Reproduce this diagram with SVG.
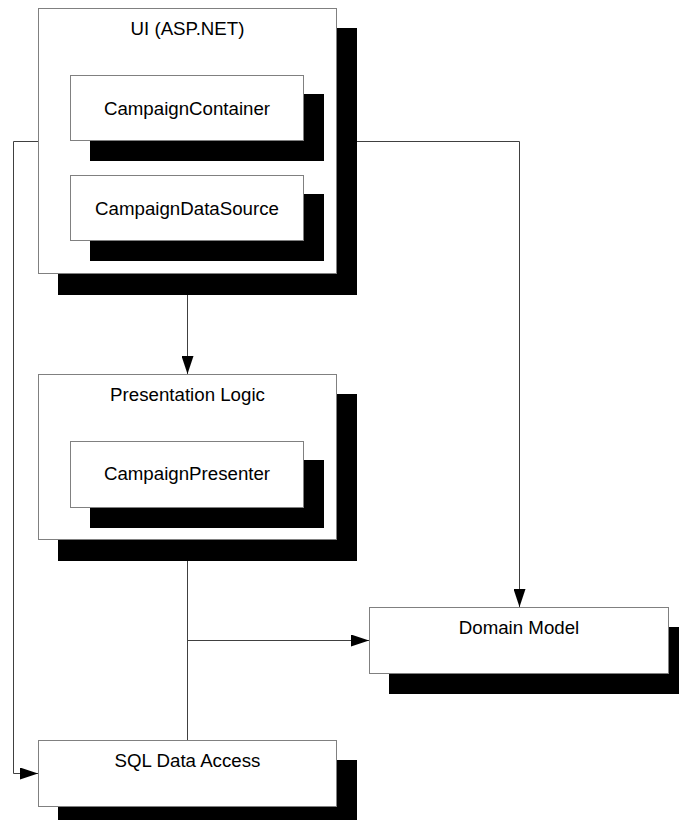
<svg xmlns="http://www.w3.org/2000/svg" width="679" height="820" viewBox="0 0 679 820">
<style>
.shadow{fill:#000;stroke:none}
.box{fill:#fff;stroke:#808080;stroke-width:1}
.lbl{font-family:"Liberation Sans",Arial,sans-serif;font-size:18.7px;fill:#000;text-anchor:middle}
.conn{fill:none;stroke:#404040;stroke-width:1}
</style>
<defs>
<marker id="arrow" markerUnits="userSpaceOnUse" viewBox="0 0 18 12" markerWidth="18" markerHeight="12" refX="18" refY="6" orient="auto">
<path d="M0,0 L18,6 L0,12 z" fill="#000"/>
</marker>
</defs>
<rect width="679" height="820" fill="#fff"/>
<g id="connectors">
<path class="conn" d="M38,141.5 H13.5 V773.5 H38" marker-end="url(#arrow)"/>
<path class="conn" d="M357,141.5 H519.5 V607" marker-end="url(#arrow)"/>
<path class="conn" d="M187.5,294 V374" marker-end="url(#arrow)"/>
<path class="conn" d="M187.5,560 V740"/>
<path class="conn" d="M187.5,640.5 H369" marker-end="url(#arrow)"/>
</g>
<g id="ui">
<rect class="shadow" x="58" y="28" width="299" height="267"/>
<rect class="box" x="38.5" y="8.5" width="298" height="265"/>
<text class="lbl" x="187.5" y="35">UI (ASP.NET)</text>
</g>
<g id="campaign-container">
<rect class="shadow" x="90" y="94" width="234" height="67"/>
<rect class="box" x="70.5" y="75.5" width="233" height="65"/>
<text class="lbl" x="187" y="115">CampaignContainer</text>
</g>
<g id="campaign-datasource">
<rect class="shadow" x="90" y="194" width="234" height="67"/>
<rect class="box" x="70.5" y="175.5" width="233" height="65"/>
<text class="lbl" x="187" y="215">CampaignDataSource</text>
</g>
<g id="presentation-logic">
<rect class="shadow" x="58" y="394" width="299" height="167"/>
<rect class="box" x="38.5" y="374.5" width="298" height="165"/>
<text class="lbl" x="187.5" y="401">Presentation Logic</text>
</g>
<g id="campaign-presenter">
<rect class="shadow" x="90" y="460" width="234" height="68"/>
<rect class="box" x="70.5" y="441.5" width="233" height="66"/>
<text class="lbl" x="187" y="480">CampaignPresenter</text>
</g>
<g id="domain-model">
<rect class="shadow" x="389" y="627" width="300" height="67"/>
<rect class="box" x="369.5" y="607.5" width="299" height="66"/>
<text class="lbl" x="519" y="634">Domain Model</text>
</g>
<g id="sql-data-access">
<rect class="shadow" x="58" y="760" width="299" height="67"/>
<rect class="box" x="38.5" y="740.5" width="298" height="66"/>
<text class="lbl" x="187.5" y="767">SQL Data Access</text>
</g>
</svg>
